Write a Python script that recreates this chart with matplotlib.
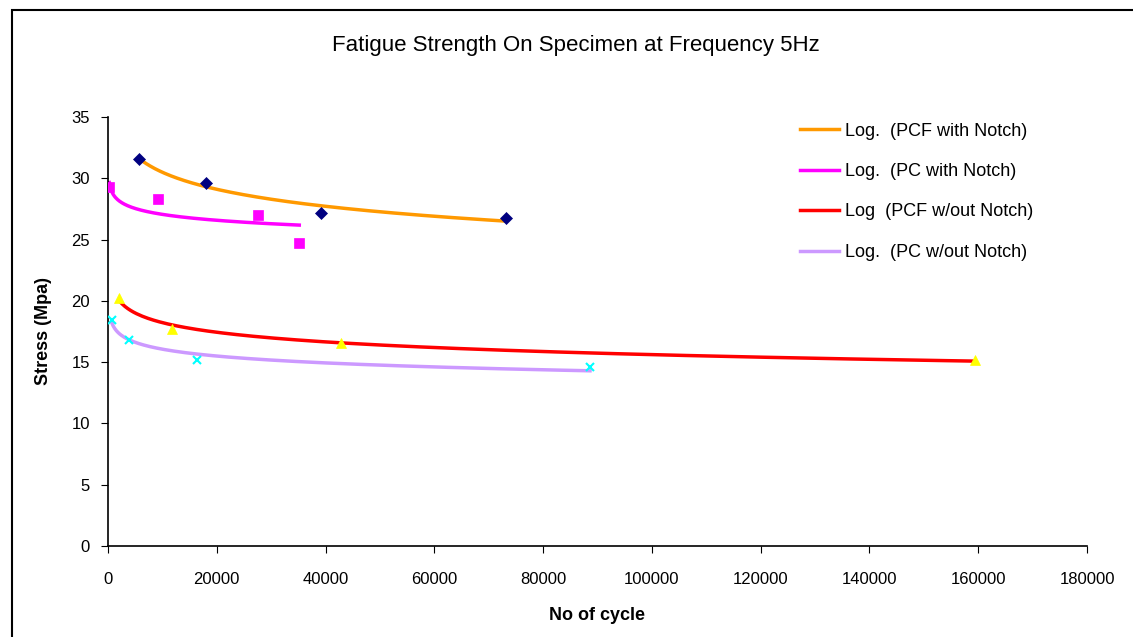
import numpy as np
import matplotlib
matplotlib.use("Agg")
import matplotlib.pyplot as plt
from matplotlib.patches import Rectangle

# data (cycles, stress in MPa)
pcf_notch_x = [5700, 17960, 39160, 73170]
pcf_notch_y = [31.6, 29.6, 27.2, 26.8]

pc_notch_x = [240, 9130, 27640, 35170]
pc_notch_y = [29.3, 28.3, 27.0, 24.7]

pcf_plain_x = [2080, 11770, 42840, 159400]
pcf_plain_y = [20.2, 17.7, 16.6, 15.2]

pc_plain_x = [680, 3920, 16300, 88620]
pc_plain_y = [18.4, 16.8, 15.2, 14.6]

labels = ["Log.  (PCF with Notch)", "Log.  (PC with Notch)",
          "Log  (PCF w/out Notch)", "Log.  (PC w/out Notch)"]

plt.rcParams["font.family"] = ["Liberation Sans", "DejaVu Sans"]

fig = plt.figure(figsize=(11.33, 6.37), dpi=100)
ax = fig.add_axes([0.0953, 0.1429, 0.8641, 0.6734])

# chart border
fig.patches.append(Rectangle((12 / 1133, -0.05), 1.1, 1 - 10 / 637 + 0.05,
                             transform=fig.transFigure, fill=False,
                             edgecolor="black", linewidth=1.5))

series = [
    (pcf_notch_x, pcf_notch_y, "#FF9900", "D", "#000080", 6),
    (pc_notch_x, pc_notch_y, "#FF00FF", "s", "#FF00FF", 7),
    (pcf_plain_x, pcf_plain_y, "#FF0000", "^", "#FFFF00", 7),
    (pc_plain_x, pc_plain_y, "#CC99FF", "x", "#00FFFF", 6),
]

handles = []
for (xs, ys, lc, mk, mc, ms), lab in zip(series, labels):
    xs = np.array(xs, dtype=float)
    ys = np.array(ys, dtype=float)
    # logarithmic trendline like excel
    a, b = np.polyfit(np.log(xs), ys, 1)
    xf = np.linspace(xs.min(), xs.max(), 300)
    h, = ax.plot(xf, a * np.log(xf) + b, color=lc, lw=2.5, label=lab, zorder=2)
    handles.append(h)
    ax.plot(xs, ys, linestyle="none", marker=mk, color=mc, markersize=ms,
            markeredgewidth=1.5 if mk == "x" else 0.5, zorder=3)

ax.set_xlim(0, 180000)
ax.set_ylim(0, 35)
ax.set_xticks(np.arange(0, 180001, 20000))
ax.set_yticks(np.arange(0, 36, 5))
ax.tick_params(axis="both", direction="out", length=5, labelsize=12)
ax.tick_params(axis="x", pad=14)
ax.tick_params(axis="y", pad=8)
for s in ["top", "right"]:
    ax.spines[s].set_visible(False)
for s in ["left", "bottom"]:
    ax.spines[s].set_linewidth(1.2)

# title sits well above the plot area
fig.text(0.508, 1 - 46 / 637, "Fatigue Strength On Specimen at Frequency 5Hz",
         fontsize=16, ha="center", va="center")
ax.set_xlabel("No of cycle", fontsize=13, fontweight="bold", labelpad=14)
ax.set_ylabel("Stress (Mpa)", fontsize=13, fontweight="bold", labelpad=14)

ax.legend(handles=handles, loc="upper left", bbox_to_anchor=(0.69, 1.025),
          frameon=False, fontsize=13, handlelength=2.2, handletextpad=0.3,
          labelspacing=1.3)

plt.savefig("out.png", dpi=100)
